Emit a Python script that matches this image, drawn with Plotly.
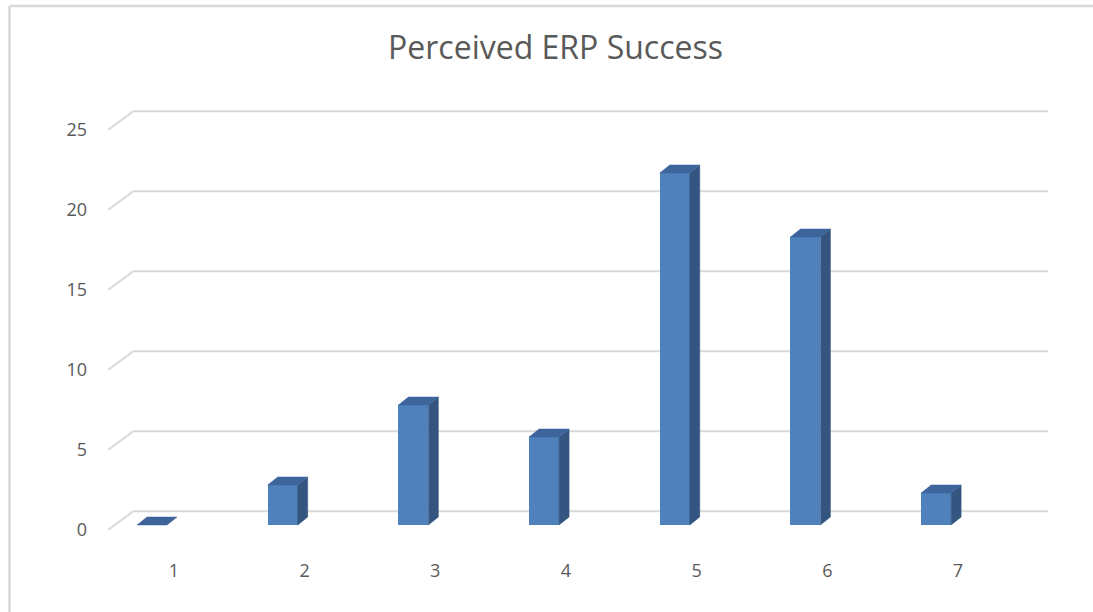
import plotly.graph_objects as go

# Survey responses: number of respondents per rating (1-7)
categories = [1, 2, 3, 4, 5, 6, 7]
counts = [0, 2.5, 7.5, 5.5, 22, 18, 2]
y_ticks = [0, 5, 10, 15, 20, 25]
title_text = "Perceived ERP Success"

# Layout geometry (pixels)
W, H = 1093, 612
ML, MR, MT, MB = 102, 37, 98, 54
X_RANGE = [0.45, 7.75]
Y_RANGE = [-1.75, 27]
px_x = (W - ML - MR) / (X_RANGE[1] - X_RANGE[0])
px_y = (H - MT - MB) / (Y_RANGE[1] - Y_RANGE[0])

# Oblique "3-D" styling, expressed in axis units
FLOOR_SHIFT = 5 / px_y          # bars sit slightly behind the front plane
BAR_OFFSET = -0.282             # bar left edge relative to category
BAR_WIDTH = 30 / px_x
DEPTH_DX = 10 / px_x
DEPTH_DY = 8 / px_y
WALL_FRONT_X = X_RANGE[0] + 6 / px_x
WALL_BACK_X = X_RANGE[0] + 31.3 / px_x
WALL_END_X = X_RANGE[0] + 946 / px_x
WALL_DY = 18.7 / px_y

GRID = "#d9d9d9"
FRONT = "#4f81bd"
SIDE = "#34557f"
TOP = "#3d649b"
TEXT = "#595959"

fig = go.Figure()

# Gridlines beneath the columns: slanted floor edge + back-wall line
for v in y_ticks:
    path = (f"M {WALL_FRONT_X},{v} L {WALL_BACK_X},{v + WALL_DY} "
            f"L {WALL_END_X},{v + WALL_DY}")
    fig.add_shape(type="path", path=path, xref="x", yref="y",
                  layer="below", line=dict(color=GRID, width=2))

# Side and top faces of each column
sx, sy, tx, ty = [], [], [], []
for c, v in zip(categories, counts):
    xl = c + BAR_OFFSET
    xr = xl + BAR_WIDTH
    b = FLOOR_SHIFT
    t = v + FLOOR_SHIFT
    if v > 0:
        sx += [xr, xr + DEPTH_DX, xr + DEPTH_DX, xr, xr, None]
        sy += [b, b + DEPTH_DY, t + DEPTH_DY, t, b, None]
    tx += [xl, xl + DEPTH_DX, xr + DEPTH_DX, xr, xl, None]
    ty += [t, t + DEPTH_DY, t + DEPTH_DY, t, t, None]

fig.add_trace(go.Scatter(x=sx, y=sy, mode="lines", fill="toself",
                         fillcolor=SIDE, line=dict(color=SIDE, width=0.5),
                         hoverinfo="skip", showlegend=False))
fig.add_trace(go.Scatter(x=tx, y=ty, mode="lines", fill="toself",
                         fillcolor=TOP, line=dict(color=TOP, width=0.5),
                         hoverinfo="skip", showlegend=False))

# Front faces of the columns
fig.add_trace(go.Bar(x=categories, y=counts, base=FLOOR_SHIFT,
                     offset=BAR_OFFSET, width=BAR_WIDTH,
                     marker=dict(color=FRONT, line=dict(width=0)),
                     showlegend=False))

# Chart border (left and top edges)
lx = (9.5 - ML) / (W - ML - MR)
ty_top = (H - MB - 6) / (H - MT - MB)
fig.add_shape(type="line", xref="paper", yref="paper",
              x0=lx, x1=lx, y0=ty_top, y1=-0.2,
              line=dict(color=GRID, width=2.5))
fig.add_shape(type="line", xref="paper", yref="paper",
              x0=lx, x1=1.1, y0=ty_top, y1=ty_top,
              line=dict(color=GRID, width=2.5))

fig.update_layout(
    width=W, height=H,
    margin=dict(l=ML, r=MR, t=MT, b=MB),
    paper_bgcolor="white", plot_bgcolor="white",
    title=dict(text=title_text, x=555.5 / W, xref="container",
               xanchor="center", y=1 - 48 / H, yanchor="middle",
               font=dict(family="Open Sans", size=32, color=TEXT)),
    xaxis=dict(range=X_RANGE, tickvals=categories,
               ticktext=[str(c) for c in categories],
               showgrid=False, zeroline=False, showline=False, ticks="",
               tickfont=dict(family="Open Sans", size=18, color=TEXT)),
    yaxis=dict(range=Y_RANGE, tickvals=y_ticks,
               showgrid=False, zeroline=False, showline=False, ticks="",
               ticklabelstandoff=14,
               tickfont=dict(family="Open Sans", size=18, color=TEXT)),
    bargap=0,
)

fig.write_html("out.html", config={"displayModeBar": False})
